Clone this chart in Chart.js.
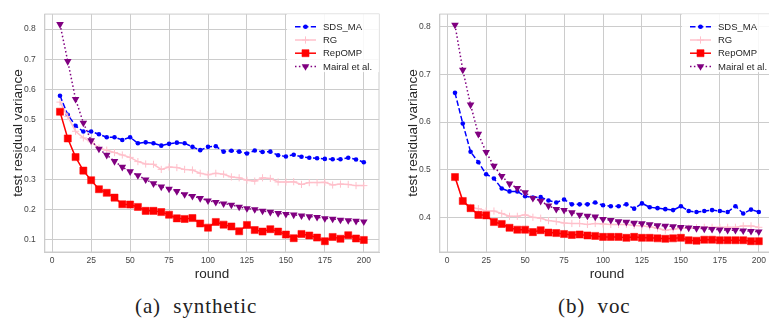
<!DOCTYPE html>
<html>
<head>
<meta charset="utf-8">
<script src="https://cdn.jsdelivr.net/npm/chart.js@4.4.1/dist/chart.umd.min.js"></script>
<style>
html, body { margin: 0; padding: 0; width: 769px; height: 329px; overflow: hidden; background: #fff; }
.wrap { position: absolute; top: 0; width: 385px; height: 290px; }
#wrapA { left: 0; }
#wrapB { left: 395px; }
.cap { position: absolute; top: 296px; font-family: "Liberation Serif", "Times New Roman", serif; font-size: 21px; line-height: 21px; color: #222; white-space: pre; letter-spacing: 0.9px; }
#capA { left: 135px; }
#capB { left: 558px; }
</style>
</head>
<body>
<div class="wrap" id="wrapA"><canvas id="chartA" width="385" height="290"></canvas></div>
<div class="wrap" id="wrapB"><canvas id="chartB" width="385" height="290"></canvas></div>
<div class="cap" id="capA">(a)  synthetic</div>
<div class="cap" id="capB">(b)  voc</div>
<script>
// rounds on the x axis
const rounds = [5, 10, 15, 20, 25, 30, 35, 40, 45, 50, 55, 60, 65, 70, 75, 80, 85, 90, 95, 100,
    105, 110, 115, 120, 125, 130, 135, 140, 145, 150, 155, 160, 165, 170, 175, 180, 185, 190, 195, 200];

const seriesNames = ['SDS_MA', 'RG', 'RepOMP', 'Mairal et al.'];

// (a) synthetic
const synSDS = [0.578, 0.515, 0.478, 0.459, 0.459, 0.450, 0.440, 0.440, 0.431, 0.440,
    0.420, 0.423, 0.420, 0.412, 0.418, 0.422, 0.420, 0.408, 0.397, 0.408,
    0.410, 0.392, 0.395, 0.392, 0.386, 0.396, 0.391, 0.392, 0.380, 0.376,
    0.382, 0.375, 0.372, 0.370, 0.368, 0.367, 0.367, 0.372, 0.366, 0.357];
const synRG = [0.557, 0.509, 0.460, 0.438, 0.425, 0.404, 0.397, 0.389, 0.381, 0.373,
    0.359, 0.351, 0.350, 0.333, 0.341, 0.339, 0.333, 0.331, 0.320, 0.315,
    0.320, 0.317, 0.308, 0.305, 0.297, 0.294, 0.305, 0.303, 0.291, 0.291,
    0.292, 0.283, 0.289, 0.289, 0.290, 0.281, 0.284, 0.283, 0.279, 0.279];
const synRep = [0.525, 0.436, 0.374, 0.329, 0.297, 0.267, 0.255, 0.239, 0.217, 0.216,
    0.208, 0.195, 0.195, 0.191, 0.182, 0.170, 0.168, 0.171, 0.153, 0.139,
    0.158, 0.149, 0.143, 0.127, 0.148, 0.131, 0.126, 0.134, 0.126, 0.116,
    0.104, 0.118, 0.113, 0.106, 0.094, 0.108, 0.102, 0.114, 0.103, 0.098];
const synMairal = [0.816, 0.693, 0.567, 0.488, 0.429, 0.401, 0.381, 0.360, 0.341, 0.326,
    0.313, 0.299, 0.286, 0.275, 0.268, 0.260, 0.250, 0.244, 0.237, 0.229,
    0.224, 0.219, 0.215, 0.208, 0.203, 0.200, 0.195, 0.191, 0.187, 0.184,
    0.182, 0.179, 0.176, 0.174, 0.170, 0.168, 0.165, 0.163, 0.161, 0.159];

// (b) voc
const vocSDS = [0.661, 0.597, 0.538, 0.516, 0.491, 0.482, 0.461, 0.455, 0.455, 0.445,
    0.442, 0.443, 0.436, 0.432, 0.438, 0.428, 0.428, 0.428, 0.432, 0.426,
    0.424, 0.424, 0.428, 0.419, 0.430, 0.422, 0.420, 0.418, 0.416, 0.424,
    0.414, 0.412, 0.414, 0.416, 0.414, 0.412, 0.424, 0.409, 0.417, 0.412];
const vocRG = [0.484, 0.436, 0.422, 0.419, 0.414, 0.414, 0.409, 0.403, 0.403, 0.406,
    0.401, 0.399, 0.394, 0.392, 0.389, 0.388, 0.388, 0.386, 0.388, 0.387,
    0.386, 0.386, 0.386, 0.384, 0.383, 0.381, 0.378, 0.374, 0.376, 0.378,
    0.378, 0.379, 0.380, 0.380, 0.380, 0.380, 0.380, 0.383, 0.383, 0.380];
const vocRep = [0.485, 0.435, 0.420, 0.406, 0.405, 0.391, 0.387, 0.379, 0.375, 0.375,
    0.370, 0.374, 0.369, 0.368, 0.366, 0.364, 0.365, 0.363, 0.362, 0.360,
    0.360, 0.360, 0.358, 0.360, 0.358, 0.358, 0.357, 0.356, 0.357, 0.358,
    0.353, 0.352, 0.354, 0.354, 0.353, 0.353, 0.353, 0.353, 0.351, 0.351];
const vocMairal = [0.803, 0.709, 0.636, 0.575, 0.537, 0.508, 0.487, 0.471, 0.462, 0.453,
    0.441, 0.435, 0.425, 0.418, 0.416, 0.411, 0.406, 0.404, 0.402, 0.397,
    0.395, 0.392, 0.391, 0.389, 0.388, 0.386, 0.384, 0.383, 0.382, 0.380,
    0.379, 0.378, 0.377, 0.376, 0.375, 0.374, 0.374, 0.373, 0.372, 0.371];

// tick labels
const xTicks = [0, 25, 50, 75, 100, 125, 150, 175, 200];
const synYTicks = [0.1, 0.2, 0.3, 0.4, 0.5, 0.6, 0.7, 0.8];
const vocYTicks = [0.4, 0.5, 0.6, 0.7, 0.8];

const sans = '"Liberation Sans", Arial, sans-serif';
const gridColor = '#cccccc';

// line / marker look of each series, same order as seriesNames
const looks = [
    { color: '#0000ff', dash: [5.5, 2.4], point: 'circle', radius: 2.3, rot: 0, bw: 0, fill: '#0000ff', edge: '#0000ff' },
    { color: '#ffc0cb', dash: [], point: 'cross', radius: 3.6, rot: 0, bw: 1, fill: '#ffc0cb', edge: '#ffc0cb' },
    { color: '#ff0000', dash: [], point: 'rect', radius: 5, rot: 0, bw: 1, fill: '#ff0000', edge: 'rgba(255,0,0,0.5)' },
    { color: '#800080', dash: [1.5, 2.4], point: 'triangle', radius: 4.4, rot: 180, bw: 0, fill: '#800080', edge: '#800080' }
];

function toPoints(vals) {
    return rounds.map((r, i) => ({ x: r, y: vals[i] }));
}

const frame = {
    id: 'frame',
    beforeDatasetsDraw(chart) {
        const a = chart.chartArea;
        const ctx = chart.ctx;
        ctx.save();
        ctx.strokeStyle = gridColor;
        ctx.lineWidth = 1;
        ctx.strokeRect(a.left, a.top, a.right - a.left, a.bottom - a.top);
        ctx.restore();
    }
};

const legendBox = {
    id: 'legendBox',
    afterDraw(chart) {
        const a = chart.chartArea;
        const ctx = chart.ctx;
        ctx.save();
        ctx.fillStyle = 'rgba(255,255,255,0.85)';
        ctx.fillRect(a.right - 92, a.top, 92, 58);
        seriesNames.forEach((name, i) => {
            const lk = looks[i];
            const y = a.top + 12.7 + i * 13.2;
            const x1 = a.right - 84, x2 = a.right - 63;
            ctx.strokeStyle = lk.color;
            ctx.lineWidth = 1.5;
            ctx.setLineDash(lk.dash);
            ctx.beginPath();
            ctx.moveTo(x1, y);
            ctx.lineTo(x2, y);
            ctx.stroke();
            ctx.setLineDash([]);
            ctx.fillStyle = lk.fill;
            ctx.strokeStyle = lk.edge;
            ctx.lineWidth = lk.bw || 1;
            Chart.helpers.drawPoint(ctx, { pointStyle: lk.point, radius: lk.radius, rotation: lk.rot, borderWidth: lk.bw }, (x1 + x2) / 2, y);
            ctx.fillStyle = '#262626';
            ctx.font = '9.5px ' + sans;
            ctx.textBaseline = 'middle';
            ctx.textAlign = 'left';
            ctx.fillText(name, a.right - 56, y + 0.5);
        });
        ctx.restore();
    }
};

function makeChart(id, series, yMin, yMax, yTicks) {
    const datasets = series.map((vals, i) => {
        const lk = looks[i];
        return {
            label: seriesNames[i],
            data: toPoints(vals),
            borderColor: lk.color,
            borderWidth: 1.5,
            borderDash: lk.dash,
            backgroundColor: lk.fill,
            pointStyle: lk.point,
            pointRadius: lk.radius,
            pointRotation: lk.rot,
            pointBackgroundColor: lk.fill,
            pointBorderColor: lk.edge,
            pointBorderWidth: lk.bw,
            tension: 0,
            fill: false,
            order: 4 - i
        };
    });

    return new Chart(document.getElementById(id), {
        type: 'line',
        data: { datasets: datasets },
        options: {
            responsive: false,
            animation: false,
            events: [],
            layout: { padding: { top: 0, right: 3.4, bottom: 0, left: 0 } },
            plugins: { legend: { display: false }, tooltip: { enabled: false } },
            scales: {
                x: {
                    type: 'linear',
                    min: -4.75,
                    max: 209.75,
                    afterBuildTicks: s => { s.ticks = xTicks.map(v => ({ value: v })); },
                    afterFit: s => { s.height = 38; },
                    grid: { color: gridColor, lineWidth: 1, drawTicks: false },
                    border: { display: true, color: gridColor },
                    ticks: { color: '#444', font: { family: sans, size: 8.5 }, padding: 4, maxRotation: 0, callback: v => String(v) },
                    title: { display: true, text: 'round', color: '#262626', font: { family: sans, size: 13.5 }, padding: { top: 0, bottom: 8 } }
                },
                y: {
                    min: yMin,
                    max: yMax,
                    afterBuildTicks: s => { s.ticks = yTicks.map(v => ({ value: v })); },
                    afterFit: s => { s.width = 44.8; },
                    grid: { color: gridColor, lineWidth: 1, drawTicks: false },
                    border: { display: true, color: gridColor },
                    ticks: { color: '#444', font: { family: sans, size: 8.5 }, padding: 9, callback: v => String(v) },
                    title: { display: true, text: 'test residual variance', color: '#262626', font: { family: sans, size: 13.5 }, padding: { top: 10, bottom: 0 } }
                }
            }
        },
        plugins: [frame, legendBox]
    });
}

makeChart('chartA', [synSDS, synRG, synRep, synMairal], 0.058, 0.850, synYTicks);
makeChart('chartB', [vocSDS, vocRG, vocRep, vocMairal], 0.3284, 0.8256, vocYTicks);
</script>
</body>
</html>
